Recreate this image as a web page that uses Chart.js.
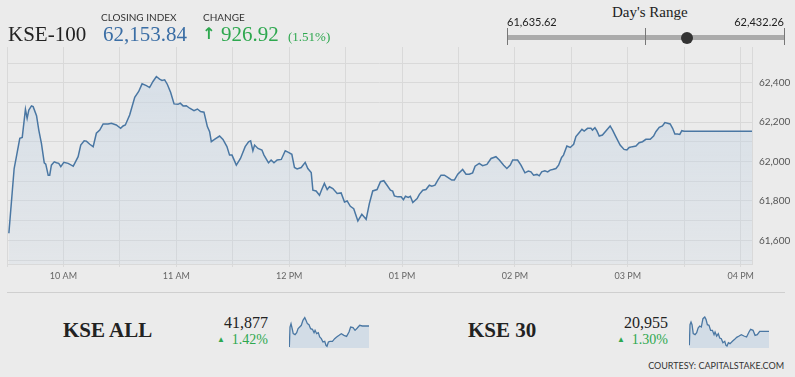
<!DOCTYPE html>
<html>
<head>
<meta charset="utf-8">
<script src="https://cdn.jsdelivr.net/npm/chart.js@4.4.0/dist/chart.umd.min.js"></script>
<style>
  html, body { margin: 0; padding: 0; }
  body { width: 795px; height: 377px; background: #ebebeb; position: relative; overflow: hidden; font-family: Lato, sans-serif; color: #222; }
  .abs { position: absolute; white-space: nowrap; line-height: 1; }
  .serif { font-family: "Liberation Serif", serif; }
  .label { font-size: 10px; color: #333; }
  .green { color: #2ea84f; }
  #rangeBar { position: absolute; left: 507px; top: 35px; width: 277px; height: 5px; background: #ababab; }
  .rtick { position: absolute; top: 28px; width: 1px; height: 17px; background: #777; }
  #rangeDot { position: absolute; top: 32px; width: 12px; height: 12px; border-radius: 50%; background: #333; }
  canvas { position: absolute; }
</style>
</head>
<body>

<canvas id="mainChart" width="795" height="250" style="left:0; top:34px;"></canvas>

<div class="abs serif" style="left:8px; top:24px; font-size:21px;">KSE-100</div>
<div class="abs label" style="left:101px; top:12px;">CLOSING INDEX</div>
<div class="abs serif" id="closeVal" style="left:103px; top:24px; font-size:21px; color:#3b6ea5;"></div>
<div class="abs label" style="left:203px; top:12px;">CHANGE</div>
<div class="abs green" style="left:202px; top:26px; font-size:16px; font-weight:bold; font-family:'DejaVu Sans';">&#8593;</div>
<div class="abs serif green" id="changeVal" style="left:221px; top:24px; font-size:21px;"></div>
<div class="abs serif green" id="changePct" style="left:288px; top:30px; font-size:13px;"></div>

<div class="abs serif" style="left:612px; top:5px; font-size:15px;">Day's Range</div>
<div class="abs" id="lowVal" style="left:507px; top:16px; font-size:11px;"></div>
<div class="abs" id="highVal" style="right:11px; top:16px; font-size:11px;"></div>
<div id="rangeBar"></div>
<div class="rtick" style="left:507px;"></div>
<div class="rtick" style="left:645px;"></div>
<div class="rtick" style="left:784px;"></div>
<div id="rangeDot"></div>

<div style="position:absolute; left:7px; top:292px; width:778px; height:1px; background:#cfcfcf;"></div>

<div class="abs serif" style="left:63px; top:320px; font-size:21px; font-weight:bold;">KSE ALL</div>
<div class="abs serif" id="allVal" style="right:527px; top:315px; font-size:16px;"></div>
<div class="abs serif green" id="allPct" style="right:527px; top:333px; font-size:14px;"></div>
<canvas id="allChart" width="80" height="32" style="left:289px; top:316px;"></canvas>

<div class="abs serif" style="left:468px; top:320px; font-size:21px; font-weight:bold;">KSE 30</div>
<div class="abs serif" id="k30Val" style="right:127px; top:315px; font-size:16px;"></div>
<div class="abs serif green" id="k30Pct" style="right:127px; top:333px; font-size:14px;"></div>
<canvas id="k30Chart" width="80" height="32" style="left:689px; top:316px;"></canvas>

<div class="abs" style="right:11px; top:361px; font-size:9px; color:#333;">COURTESY: CAPITALSTAKE.COM</div>

<script>
// KSE-100 intraday (minutes since midnight, index value)
const times = [
  571.0, 573.8, 575.0, 576.8, 578.1, 579.8, 580.7, 581.6, 583.0, 583.9,
  585.7, 586.9, 588.3, 589.8, 590.6, 591.9, 592.7, 593.6, 595.1, 596.3,
  597.5, 598.6, 600.2, 602.5, 604.2, 605.2, 606.4, 607.8, 609.2, 611.0,
  612.2, 614.0, 615.8, 617.5, 619.3, 621.1, 623.7, 625.5, 628.1, 630.4,
  631.7, 632.9, 635.2, 637.9, 640.0, 641.8, 644.1, 645.8, 647.6, 649.4,
  651.1, 652.4, 653.8, 655.2, 657.0, 658.8, 660.9, 662.1, 663.6, 665.3,
  667.1, 669.4, 671.2, 672.9, 674.7, 676.5, 677.7, 678.6, 680.3, 683.0,
  684.8, 686.9, 688.3, 689.6, 691.9, 694.1, 696.6, 698.4, 699.5, 700.7,
  701.6, 703.4, 705.5, 706.6, 709.0, 710.4, 711.9, 713.6, 715.8, 717.9,
  719.6, 721.4, 722.8, 724.2, 726.4, 728.5, 729.9, 731.7, 732.6, 734.3,
  736.1, 737.3, 738.7, 740.2, 741.4, 743.2, 745.5, 747.6, 749.4, 750.8,
  752.5, 754.3, 756.5, 758.6, 760.9, 762.6, 764.4, 766.7, 768.5, 770.3,
  772.0, 773.8, 775.0, 775.9, 777.7, 779.5, 780.7, 781.8, 783.3, 784.4,
  785.7, 788.0, 789.2, 791.0, 792.7, 794.5, 795.8, 797.5, 799.0, 800.7,
  802.5, 804.3, 806.4, 807.8, 809.6, 812.2, 814.0, 815.7, 817.5, 818.8,
  821.0, 822.8, 825.1, 827.3, 829.9, 831.7, 834.0, 835.7, 837.5, 838.8,
  841.4, 843.2, 845.3, 847.1, 848.5, 849.9, 851.7, 852.9, 854.2, 855.9,
  857.4, 858.7, 860.0, 861.8, 863.2, 864.8, 865.8, 867.6, 869.4, 871.2,
  872.4, 874.1, 875.6, 876.8, 878.6, 880.4, 881.2, 882.5, 883.5, 884.8,
  886.5, 890.6, 891.9, 893.6, 895.9, 898.0, 899.5, 900.7, 902.5, 904.3,
  906.0, 907.8, 909.6, 911.9, 913.7, 914.9, 916.7, 918.4, 919.7, 921.1,
  922.5, 923.8, 925.0, 926.4, 927.6, 928.7, 929.9, 966.2
];
const values = [
  61636, 61965, 62025, 62118, 62123, 62266, 62220, 62262, 62283, 62279,
  62233, 62160, 62093, 61994, 61987, 61931, 61931, 61982, 61999, 61994,
  61991, 61974, 61996, 61991, 61982, 61977, 61999, 62025, 62084, 62106,
  62104, 62088, 62076, 62144, 62160, 62191, 62191, 62195, 62186, 62169,
  62181, 62186, 62237, 62327, 62356, 62395, 62386, 62376, 62407, 62432,
  62419, 62412, 62415, 62393, 62351, 62293, 62291, 62297, 62283, 62284,
  62271, 62259, 62267, 62254, 62251, 62178, 62152, 62101, 62113, 62130,
  62113, 62076, 62033, 62033, 61982, 62016, 62076, 62101, 62106, 62055,
  62084, 62067, 62059, 62033, 61994, 62008, 61994, 62008, 62011, 62055,
  62047, 62037, 61970, 61963, 61970, 61996, 61965, 61945, 61855, 61851,
  61829, 61858, 61889, 61858, 61872, 61863, 61838, 61841, 61795, 61800,
  61773, 61761, 61699, 61732, 61707, 61787, 61851, 61858, 61898, 61903,
  61880, 61855, 61850, 61826, 61821, 61821, 61807, 61824, 61818, 61824,
  61792, 61812, 61834, 61855, 61858, 61880, 61875, 61880, 61906, 61931,
  61931, 61920, 61906, 61906, 61936, 61960, 61936, 61936, 61943, 61977,
  61991, 61979, 61986, 62016, 62025, 62008, 61982, 61965, 61982, 62008,
  62008, 61982, 61943, 61952, 61948, 61931, 61935, 61928, 61948, 61953,
  61948, 61957, 61960, 61965, 61982, 62021, 62033, 62079, 62072, 62088,
  62127, 62147, 62164, 62155, 62169, 62169, 62160, 62172, 62157, 62130,
  62135, 62181, 62160, 62127, 62084, 62062, 62059, 62072, 62076, 62079,
  62096, 62101, 62113, 62113, 62130, 62152, 62174, 62181, 62198, 62195,
  62191, 62169, 62140, 62140, 62138, 62157, 62154, 62154
];

// axis ticks: every half hour / every 100 points (labels on hours / every 200)
const xTicks = [570, 600, 630, 660, 690, 720, 750, 780, 810, 840, 870, 900, 930, 960];
const yTicks = [61500, 61600, 61700, 61800, 61900, 62000, 62100, 62200, 62300, 62400, 62500];

const closingIndex = 62153.84;
const change = 926.92;
const changePct = 1.51;
const dayLow = 61635.62;
const dayHigh = 62432.26;

// small index sparklines
const sparkTimes = [
  571.7, 575, 580, 585, 591, 600, 608, 615, 623, 631,
  639, 648, 654, 661, 669, 677, 686, 694, 699, 707,
  715, 722, 730, 738, 747, 753, 758, 765, 773, 785,
  796, 806, 818, 829, 842, 855, 867, 875, 887, 897,
  908, 920, 933, 966
];
const kseAllValues = [
  41291, 41849, 41942, 41821, 41663, 41635, 41691, 41803, 41849, 41896,
  42035, 42110, 42035, 41942, 41914, 41803, 41784, 41691, 41756, 41663,
  41691, 41570, 41524, 41431, 41449, 41338, 41310, 41431, 41449, 41449,
  41524, 41570, 41617, 41663, 41617, 41589, 41710, 41849, 41831, 41756,
  41821, 41896, 41877, 41877
];
const kse30Values = [
  20686, 21083, 21134, 21083, 20910, 20891, 20929, 21019, 21057, 21038,
  21198, 21230, 21185, 21083, 21070, 20974, 20974, 20891, 20942, 20865,
  20910, 20827, 20814, 20737, 20763, 20686, 20673, 20737, 20718, 20763,
  20801, 20840, 20865, 20891, 20865, 20846, 20942, 20993, 20974, 20878,
  20891, 20955, 20955, 20955
];
const kseAllClose = 41877, kseAllPct = 1.42;
const kse30Close = 20955, kse30Pct = 1.30;

const fmt = (v, d) => v.toLocaleString('en-US', { minimumFractionDigits: d, maximumFractionDigits: d });

document.getElementById('closeVal').textContent = fmt(closingIndex, 2);
document.getElementById('changeVal').textContent = fmt(change, 2);
document.getElementById('changePct').textContent = '(' + fmt(changePct, 2) + '%)';
document.getElementById('lowVal').textContent = fmt(dayLow, 2);
document.getElementById('highVal').textContent = fmt(dayHigh, 2);
document.getElementById('rangeDot').style.left =
  (507 + 277 * (closingIndex - dayLow) / (dayHigh - dayLow) - 6) + 'px';

const upMark = '<span style="font-size:8px;vertical-align:2px;">&#9650;</span>&nbsp;&nbsp;';
document.getElementById('allVal').textContent = fmt(kseAllClose, 0);
document.getElementById('allPct').innerHTML = upMark + fmt(kseAllPct, 2) + '%';
document.getElementById('k30Val').textContent = fmt(kse30Close, 0);
document.getElementById('k30Pct').innerHTML = upMark + fmt(kse30Pct, 2) + '%';

const gridColor = '#d9d9d9';

function timeLabel(v) {
    if (v % 60 !== 0) return '';
    const h = v / 60;
    const h12 = h > 12 ? h - 12 : h;
    return String(h12).padStart(2, '0') + ' ' + (h >= 12 ? 'PM' : 'AM');
}

function areaFill(ctx) {
    const area = ctx.chart.chartArea;
    if (!area) return 'rgba(196,212,228,0.4)';
    const g = ctx.chart.ctx.createLinearGradient(0, area.top, 0, area.bottom);
    g.addColorStop(0, 'rgba(196,212,228,0.55)');
    g.addColorStop(1, 'rgba(196,212,228,0.2)');
    return g;
}

new Chart(document.getElementById('mainChart'), {
    type: 'line',
    data: {
        datasets: [{
            data: times.map((t, i) => ({ x: t, y: values[i] })),
            borderColor: '#4a77a3',
            borderWidth: 1.5,
            backgroundColor: areaFill,
            fill: 'start',
            pointRadius: 0,
            tension: 0
        }]
    },
    options: {
        responsive: false,
        animation: false,
        plugins: { legend: { display: false }, tooltip: { enabled: false } },
        layout: { padding: { left: 7, top: 1, right: 0, bottom: 0 } },
        scales: {
            x: {
                type: 'linear',
                min: 570,
                max: 966,
                afterBuildTicks: s => { s.ticks = xTicks.map(v => ({ value: v })); },
                afterFit: s => { s.height = 20; },
                ticks: {
                    autoSkip: false,
                    maxRotation: 0,
                    callback: v => timeLabel(v),
                    font: { family: 'Lato', size: 9 },
                    color: '#666',
                    padding: 4
                },
                grid: { color: gridColor, tickLength: 3 },
                border: { color: gridColor }
            },
            y: {
                type: 'linear',
                position: 'right',
                min: 61480,
                max: 62582,
                afterBuildTicks: s => { s.ticks = yTicks.map(v => ({ value: v })); },
                afterFit: s => { s.width = 43; },
                ticks: {
                    autoSkip: false,
                    callback: v => (v % 200 === 0 ? v.toLocaleString('en-US') : ''),
                    font: { family: 'Lato', size: 10 },
                    color: '#555',
                    padding: 7
                },
                grid: { color: gridColor, drawTicks: false },
                border: { color: gridColor }
            }
        }
    }
});

function sparkline(id, vals, lo, hi) {
    return new Chart(document.getElementById(id), {
        type: 'line',
        data: {
            datasets: [{
                data: sparkTimes.map((t, i) => ({ x: t, y: vals[i] })),
                borderColor: '#4a77a3',
                borderWidth: 1.3,
                backgroundColor: 'rgba(190,208,226,0.55)',
                fill: 'start',
                pointRadius: 0,
                tension: 0
            }]
        },
        options: {
            responsive: false,
            animation: false,
            plugins: { legend: { display: false }, tooltip: { enabled: false } },
            layout: { padding: 0 },
            scales: {
                x: { type: 'linear', min: 570, max: 966, display: false },
                y: { min: lo, max: hi, display: false }
            }
        }
    });
}

sparkline('allChart', kseAllValues, 41263, 42156);
sparkline('k30Chart', kse30Values, 20635, 21249);
</script>
</body>
</html>
